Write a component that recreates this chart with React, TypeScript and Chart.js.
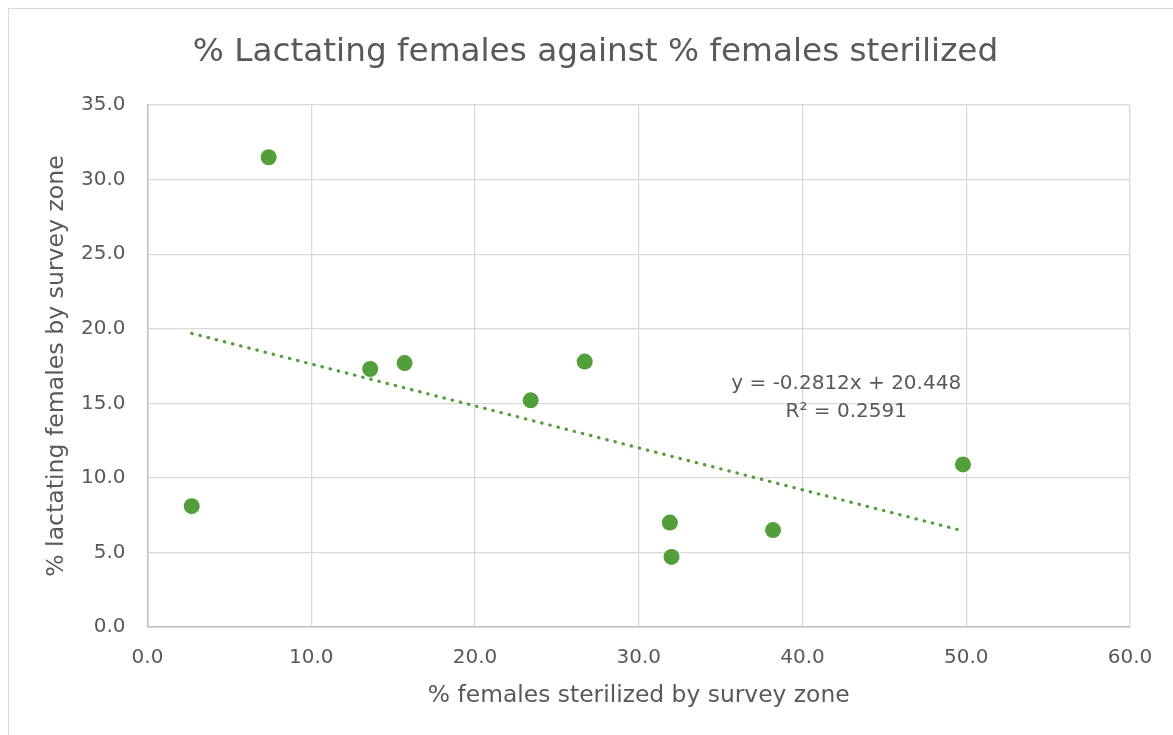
import React, { useEffect, useRef } from "react";
import { Chart, registerables } from "chart.js";

Chart.register(...registerables);

// % females sterilized by survey zone (x) and % lactating females (y)
const sterilizedPct = [2.7, 7.4, 13.6, 15.7, 23.4, 26.7, 31.9, 32.0, 38.2, 49.8];
const lactatingPct = [8.1, 31.5, 17.3, 17.7, 15.2, 17.8, 7.0, 4.7, 6.5, 10.9];

// linear trendline reported in the chart
const trendSlope = -0.2812;
const trendIntercept = 20.448;
const rSquared = 0.2591;

const xTickValues = [0, 10, 20, 30, 40, 50, 60];
const yTickValues = [0, 5, 10, 15, 20, 25, 30, 35];

const chartTitle = "% Lactating females against % females sterilized";
const xAxisTitle = "% females sterilized by survey zone";
const yAxisTitle = "% lactating females by survey zone";

const GREEN = "#529E3A";
const TEXT = "#595959";
const FONT = "'DejaVu Sans', sans-serif";

export default function App() {
  const canvasRef = useRef<HTMLCanvasElement | null>(null);

  useEffect(() => {
    document.body.style.overflow = "hidden";
    document.documentElement.style.overflow = "hidden";
    const canvas = canvasRef.current;
    if (!canvas) return;

    const points = sterilizedPct.map((x, i) => ({ x, y: lactatingPct[i] }));
    const xMin = Math.min(...sterilizedPct);
    const xMax = Math.max(...sterilizedPct);
    const trend = [
      { x: xMin, y: trendSlope * xMin + trendIntercept },
      { x: xMax, y: trendSlope * xMax + trendIntercept },
    ];

    const eqPlugin = {
      id: "eqLabel",
      afterDatasetsDraw(chart: any) {
        const { ctx, scales } = chart;
        const cx = scales.x.getPixelForValue(42.67);
        const y1 = scales.y.getPixelForValue(16.3);
        const y2 = scales.y.getPixelForValue(14.45);
        ctx.save();
        ctx.fillStyle = TEXT;
        ctx.font = `20px ${FONT}`;
        ctx.textAlign = "center";
        ctx.textBaseline = "middle";
        const sign = trendIntercept >= 0 ? "+" : "-";
        ctx.fillText(
          `y = ${trendSlope.toFixed(4)}x ${sign} ${Math.abs(trendIntercept).toFixed(3)}`,
          cx,
          y1
        );
        ctx.fillText(`R² = ${rSquared.toFixed(4)}`, cx, y2);
        ctx.restore();
      },
    };

    const chart = new Chart(canvas, {
      type: "scatter",
      data: {
        datasets: [
          {
            type: "scatter",
            data: points,
            backgroundColor: GREEN,
            borderColor: GREEN,
            pointRadius: 8,
            pointHoverRadius: 8,
            borderWidth: 0,
          } as any,
          {
            type: "line",
            data: trend,
            borderColor: GREEN,
            borderWidth: 3.2,
            borderDash: [0.5, 7.9],
            borderCapStyle: "round",
            pointRadius: 0,
            fill: false,
          } as any,
        ],
      },
      plugins: [eqPlugin],
      options: {
        responsive: false,
        animation: false,
        layout: { padding: { top: 0, right: 0, bottom: 0, left: 9 } },
        plugins: {
          legend: { display: false },
          tooltip: { enabled: false },
          title: {
            display: true,
            text: chartTitle,
            color: TEXT,
            font: { family: FONT, size: 32.7, weight: "normal" },
            padding: { top: 23.5, bottom: 33.3 },
          },
        },
        scales: {
          x: {
            type: "linear",
            min: 0,
            max: 60,
            afterBuildTicks: (s: any) => {
              s.ticks = xTickValues.map((v) => ({ value: v }));
            },
            afterFit: (s: any) => {
              s.height = 108;
            },
            ticks: {
              color: TEXT,
              font: { family: FONT, size: 20 },
              padding: 19,
              callback: (v: any) => Number(v).toFixed(1),
            },
            grid: { color: "#d9d9d9", lineWidth: 1.3, drawTicks: false },
            border: { color: "#bfbfbf", width: 1.5 },
            title: {
              display: true,
              text: xAxisTitle,
              color: TEXT,
              font: { family: FONT, size: 23.4 },
              padding: { top: 0, bottom: 25.2 },
            },
          },
          y: {
            type: "linear",
            min: 0,
            max: 35,
            afterBuildTicks: (s: any) => {
              s.ticks = yTickValues.map((v) => ({ value: v }));
            },
            afterFit: (s: any) => {
              s.width = 129.5;
            },
            ticks: {
              color: TEXT,
              font: { family: FONT, size: 20 },
              padding: 22,
              callback: (v: any) => Number(v).toFixed(1),
            },
            grid: { color: "#d9d9d9", lineWidth: 1.3, drawTicks: false },
            border: { color: "#bfbfbf", width: 1.5 },
            title: {
              display: true,
              text: yAxisTitle,
              color: TEXT,
              font: { family: FONT, size: 23.6 },
              padding: { top: 25, bottom: 0 },
            },
          },
          yRight: {
            type: "linear",
            position: "right",
            display: true,
            grid: { display: false, drawTicks: false },
            border: { display: false },
            ticks: { display: false },
            afterFit: (s: any) => {
              s.width = 43;
            },
          },
        },
      } as any,
    });

    return () => chart.destroy();
  }, []);

  return (
    <div
      style={{
        position: "fixed",
        left: 8,
        top: 8,
        width: 1200,
        height: 800,
        border: "1px solid #d9d9d9",
        background: "#ffffff",
      }}
    >
      <canvas ref={canvasRef} width={1164} height={726} style={{ display: "block" }} />
    </div>
  );
}
